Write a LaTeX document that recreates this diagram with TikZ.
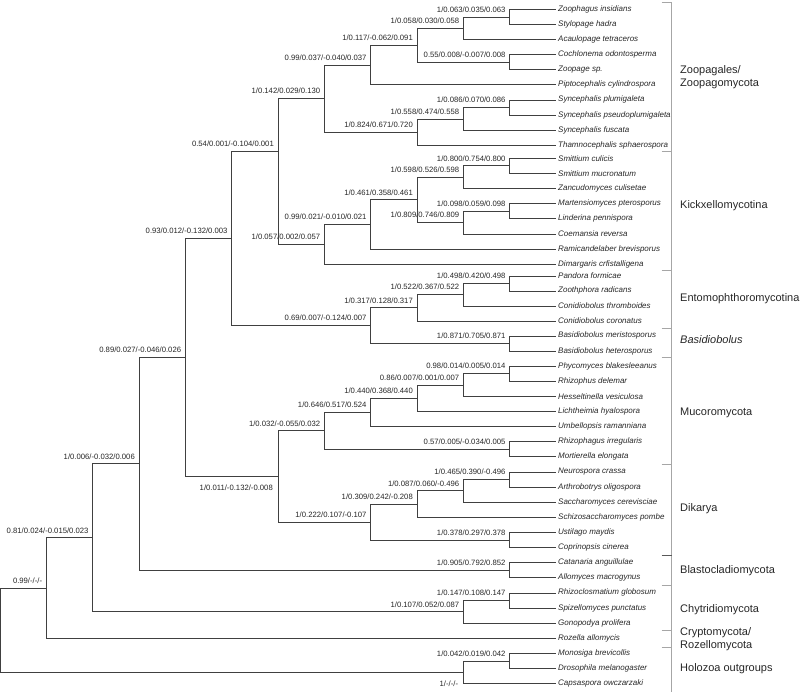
\documentclass[tikz,border=0pt]{standalone}
\usepackage{fontspec}
\setmainfont{Liberation Sans}

\begin{document}
\begin{tikzpicture}[
  x=1pt, y=-1pt,
  br/.style={draw=black!75, line width=0.75pt},
  tx/.style={anchor=west, inner sep=0pt, xshift=2pt, text=black!85,
    font=\fontsize{8}{9.6}\selectfont\itshape},
  bs/.style={anchor=south east, inner sep=0pt, xshift=-4pt, yshift=4.5pt,
    text=black!85, font=\fontsize{7.7}{9}\selectfont},
  bb/.style={anchor=north east, inner sep=0pt, xshift=-5pt, yshift=-8.5pt,
    text=black!85, font=\fontsize{7.7}{9}\selectfont},
  grp/.style={anchor=west, inner sep=0pt, align=left, text=black!85,
    font=\fontsize{11}{13.3}\selectfont},
  brk/.style={draw=black!35, line width=0.8pt}
]
\useasboundingbox (0,0) rectangle (800,692);

% taxa
\foreach \i/\y/\t in {
  1/9.5/Zoophagus insidians, 2/24.5/Stylopage hadra, 3/39.5/Acaulopage tetraceros,
  4/54.5/Cochlonema odontosperma, 5/69.6/Zoopage sp., 6/84.8/Piptocephalis cylindrospora,
  7/99.9/Syncephalis plumigaleta, 8/115/Syncephalis pseudoplumigaleta,
  9/130.3/Syncephalis fuscata, 10/145.5/Thamnocephalis sphaerospora,
  11/158.3/Smittium culicis, 12/173.3/Smittium mucronatum, 13/188.4/Zancudomyces culisetae,
  14/203.6/Martensiomyces pterosporus, 15/218.8/Linderina pennispora,
  16/234/Coemansia reversa, 17/249/Ramicandelaber brevisporus,
  18/264.2/Dimargaris crfistalligena, 19/276/Pandora formicae, 20/290.9/Zoothphora radicans,
  21/305.9/Conidiobolus thromboides, 22/320.9/Conidiobolus coronatus,
  23/335.9/Basidiobolus meristosporus, 24/351/Basidiobolus heterosporus,
  25/366.1/Phycomyces blakesleeanus, 26/381.2/Rhizophus delemar,
  27/396.3/Hesseltinella vesiculosa, 28/411.4/Lichtheimia hyalospora,
  29/426.6/Umbellopsis ramanniana, 30/441.7/Rhizophagus irregularis,
  31/456.8/Mortierella elongata, 32/471.9/Neurospora crassa, 33/487/Arthrobotrys oligospora,
  34/502.2/Saccharomyces cerevisciae, 35/517.3/Schizosaccharomyces pombe,
  36/532.4/Ustilago maydis, 37/547.5/Coprinopsis cinerea, 38/562.7/Catanaria anguillulae,
  39/577.8/Allomyces macrogynus, 40/592.9/Rhizoclosmatium globosum,
  41/608/Spizellomyces punctatus, 42/623.2/Gonopodya prolifera, 43/638.3/Rozella allomycis,
  44/653.4/Monosiga brevicollis, 45/668.5/Drosophila melanogaster,
  46/683.6/Capsaspora owczarzaki}
{
  \coordinate (t\i) at (556,\y);
  \node[tx] (s\i) at (t\i) {\t};
}

% internal nodes and their support values
\foreach \n/\x/\y/\s/\t in {
  zs/509.7/17.0/bs/{1/0.063/0.035/0.063}, zsa/463.3/28.25/bs/{1/0.058/0.030/0.058},
  cz/509.7/62.05/bs/{0.55/0.008/-0.007/0.008}, z117/417/45.15/bs/{1/0.117/-0.062/0.091},
  z037/370.7/64.98/bs/{0.99/0.037/-0.040/0.037}, sp/509.7/107.45/bs/{1/0.086/0.070/0.086},
  spf/463.3/118.88/bs/{1/0.558/0.474/0.558}, st/417/132.19/bs/{1/0.824/0.671/0.720},
  zoop/324.3/98.58/bs/{1/0.142/0.029/0.130},
  sm/509.7/165.8/bs/{1/0.800/0.754/0.800}, smz/463.3/177.1/bs/{1/0.598/0.526/0.598},
  ml/509.7/211.2/bs/{1/0.098/0.059/0.098}, mlc/463.3/222.6/bs/{1/0.809/0.746/0.809},
  k461/417/199.85/bs/{1/0.461/0.358/0.461}, k021/370.7/224.43/bs/{0.99/0.021/-0.010/0.021},
  kick/324.3/244.31/bs/{1/0.057/0.002/0.057}, n054/278/151/bs/{0.54/0.001/-0.104/0.001},
  pz/509.7/283.45/bs/{1/0.498/0.420/0.498}, pzt/463.3/294.68/bs/{1/0.522/0.367/0.522},
  ento/417/307.79/bs/{1/0.317/0.128/0.317}, bas/509.7/343.45/bs/{1/0.871/0.705/0.871},
  eb/370.7/325.62/bs/{0.69/0.007/-0.124/0.007}, n093/231.7/238.31/bs/{0.93/0.012/-0.132/0.003},
  pr/509.7/373.65/bs/{0.98/0.014/0.005/0.014}, prh/463.3/384.98/bs/{0.86/0.007/0.001/0.007},
  m440/417/398.19/bs/{1/0.440/0.368/0.440}, m646/370.7/412.39/bs/{1/0.646/0.517/0.524},
  rm/509.7/449.25/bs/{0.57/0.005/-0.034/0.005}, muco/324.3/430.82/bs/{1/0.032/-0.055/0.032},
  na/509.7/479.45/bs/{1/0.465/0.390/-0.496}, nas/463.3/490.83/bs/{1/0.087/0.060/-0.496},
  d309/417/504.06/bs/{1/0.309/0.242/-0.208}, uc/509.7/539.95/bs/{1/0.378/0.297/0.378},
  dik/370.7/522.0/bs/{1/0.222/0.107/-0.107}, md/278/476.41/bb/{1/0.011/-0.132/-0.008},
  n089/185.3/357.36/bs/{0.89/0.027/-0.046/0.026}, blas/509.7/570.25/bs/{1/0.905/0.792/0.852},
  n006/139/463.8/bs/{1/0.006/-0.032/0.006}, rs/509.7/600.45/bs/{1/0.147/0.108/0.147},
  chy/463.3/611.83/bs/{1/0.107/0.052/0.087}, n081/92.7/537.81/bs/{0.81/0.024/-0.015/0.023},
  n099/46.3/588.06/bs/{0.99/-/-/-}, md2/509.7/660.95/bs/{1/0.042/0.019/0.042},
  holo/463.3/672.28/bb/{1/-/-/-}}
{
  \coordinate (\n) at (\x,\y);
  \node[\s] (v\n) at (\n) {\t};
}
\coordinate (root) at (0.6,630.17);

% branches
\foreach \p/\c in {
  zs/t1, zs/t2, zsa/zs, zsa/t3, cz/t4, cz/t5, z117/zsa, z117/cz, z037/z117, z037/t6,
  sp/t7, sp/t8, spf/sp, spf/t9, st/spf, st/t10, zoop/z037, zoop/st,
  sm/t11, sm/t12, smz/sm, smz/t13, ml/t14, ml/t15, mlc/ml, mlc/t16, k461/smz, k461/mlc,
  k021/k461, k021/t17, kick/k021, kick/t18, n054/zoop, n054/kick,
  pz/t19, pz/t20, pzt/pz, pzt/t21, ento/pzt, ento/t22, bas/t23, bas/t24, eb/ento, eb/bas,
  n093/n054, n093/eb,
  pr/t25, pr/t26, prh/pr, prh/t27, m440/prh, m440/t28, m646/m440, m646/t29,
  rm/t30, rm/t31, muco/m646, muco/rm,
  na/t32, na/t33, nas/na, nas/t34, d309/nas, d309/t35, uc/t36, uc/t37, dik/d309, dik/uc,
  md/muco, md/dik, n089/n093, n089/md, blas/t38, blas/t39, n006/n089, n006/blas,
  rs/t40, rs/t41, chy/rs, chy/t42, n081/n006, n081/chy, n099/n081, n099/t43,
  md2/t44, md2/t45, holo/md2, holo/t46, root/n099, root/holo}
  \draw[br] (\p) |- (\c);

% group brackets
\draw[brk] (671.7,2.7) -- (671.7,692);
\foreach \y in {2.7,151.7,270,328.3,357.8,464.5,585.5,630.5,647}
  \draw[brk] (661.7,\y) -- (671.7,\y);
\draw[brk, draw=black!65] (661.7,555) -- (671.7,555);

\node[grp] (gzoo) at (680,77.4) {Zoopagales/\\Zoopagomycota};
\node[grp] (gkick) at (680,206) {Kickxellomycotina};
\node[grp] (gento) at (680,299) {Entomophthoromycotina};
\node[grp, font=\fontsize{11}{13.3}\selectfont\itshape] (gbas) at (680,340) {Basidiobolus};
\node[grp] (gmuco) at (680,413.3) {Mucoromycota};
\node[grp] (gdik) at (680,508.3) {Dikarya};
\node[grp] (gblas) at (680,570.7) {Blastocladiomycota};
\node[grp] (gchy) at (680,609.3) {Chytridiomycota};
\node[grp] (gcry) at (680,639.2) {Cryptomycota/\\Rozellomycota};
\node[grp] (ghol) at (680,668.3) {Holozoa outgroups};
\end{tikzpicture}
\end{document}
